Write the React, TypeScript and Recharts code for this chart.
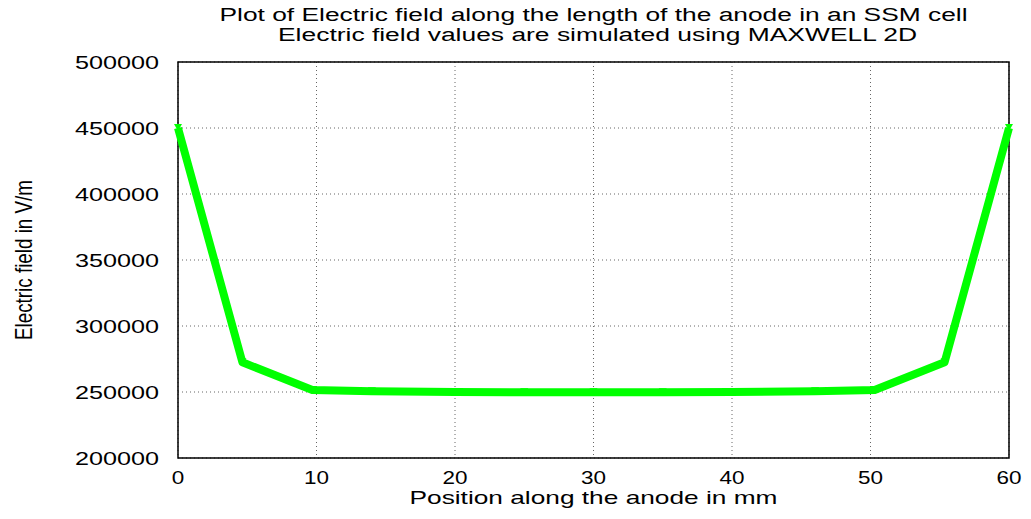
import { CartesianGrid, Label, Line, LineChart, ReferenceArea, XAxis, YAxis } from "recharts"

// position along the anode (mm) and simulated field (V/m)
const positions = [0, 4.65, 9.7, 14, 20, 25, 30, 35, 40, 46, 50.3, 55.35, 60]
const fieldValues = [450000, 272500, 251500, 250500, 250000, 249800, 249800, 249800, 250000, 250500, 251500, 272500, 450000]

const xTicks = [0, 10, 20, 30, 40, 50, 60]
const yTicks = [200000, 250000, 300000, 350000, 400000, 450000, 500000]

const titleLines = [
  "Plot of Electric field along the length of the anode in an SSM cell",
  "Electric field values are simulated using MAXWELL 2D",
]
const xLabel = "Position along the anode in mm"
const yLabel = "Electric field in V/m"

const data = positions.map((p, i) => ({ pos: p, field: fieldValues[i] }))

const FONT = "'Liberation Sans', Arial, Helvetica, sans-serif"
const TICK = 8
const X_DOMAIN = [0, 60]
const Y_DOMAIN = [200000, 500000]

function YTick({ x, y, payload }: any) {
  const s = String(payload.value)
  return (
    <text x={x} y={y + 7} textAnchor="end" fontFamily={FONT} fontSize={19} fill="#000"
      textLength={s.length * 14} lengthAdjust="spacingAndGlyphs">
      {s}
    </text>
  )
}

function XTick({ x, y, payload }: any) {
  const s = String(payload.value)
  return (
    <text x={x} y={y + 26} textAnchor="middle" fontFamily={FONT} fontSize={18} fill="#000"
      textLength={s.length * 12.5} lengthAdjust="spacingAndGlyphs">
      {s}
    </text>
  )
}

function Marker({ cx, cy }: any) {
  if (cx == null || cy == null) return null
  return <polygon points={`${cx - 4},${cy - 4} ${cx + 4},${cy - 4} ${cx},${cy + 3}`} fill="#00ff00" />
}

// mirrored axes: only inward tick marks, no labels
const tickOnly = {
  mirror: true,
  axisLine: false,
  tickLine: { stroke: "#000", strokeWidth: 1.5 },
  tickSize: TICK,
  tick: false,
}

export default function App() {
  return (
    <div style={{ position: "absolute", left: 0, top: 0, background: "#fff" }}>
      <LineChart width={1031} height={519} data={data} margin={{ top: 62, right: 22, left: 0, bottom: 0 }}>
        <CartesianGrid xAxisId="bottom" yAxisId="left" stroke="#666" strokeDasharray="1 3" />
        <XAxis
          xAxisId="bottom"
          dataKey="pos"
          type="number"
          domain={X_DOMAIN}
          ticks={xTicks}
          height={61}
          axisLine={false}
          tickLine={false}
          tickSize={0}
          tickMargin={0}
          tick={<XTick />}
        >
          <Label
            content={({ viewBox }: any) => {
              const cx = viewBox.x + viewBox.width / 2
              return (
                <g fontFamily={FONT} fill="#000" textAnchor="middle">
                  <text x={cx} y={504} fontSize={19} textLength={368} lengthAdjust="spacingAndGlyphs">{xLabel}</text>
                  <text x={cx} y={21} fontSize={18} textLength={748} lengthAdjust="spacingAndGlyphs">{titleLines[0]}</text>
                  <text x={cx + 4} y={41} fontSize={18} textLength={639} lengthAdjust="spacingAndGlyphs">{titleLines[1]}</text>
                </g>
              )
            }}
          />
        </XAxis>
        <XAxis xAxisId="bottomTicks" dataKey="pos" type="number" domain={X_DOMAIN} ticks={xTicks} {...tickOnly} />
        <XAxis xAxisId="topTicks" orientation="top" dataKey="pos" type="number" domain={X_DOMAIN} ticks={xTicks} {...tickOnly} />
        <YAxis
          yAxisId="left"
          type="number"
          domain={Y_DOMAIN}
          ticks={yTicks}
          width={178}
          axisLine={false}
          tickLine={false}
          tickSize={0}
          tickMargin={19}
          tick={<YTick />}
        >
          <Label
            content={({ viewBox }: any) => {
              const cy = viewBox.y + viewBox.height / 2
              return (
                <text x={32} y={cy} transform={`rotate(-90, 32, ${cy})`} textAnchor="middle"
                  fontFamily="'Liberation Sans Narrow', 'Liberation Sans', Arial, sans-serif" fontSize={24}
                  fill="#000" textLength={160} lengthAdjust="spacingAndGlyphs">
                  {yLabel}
                </text>
              )
            }}
          />
        </YAxis>
        <YAxis yAxisId="leftTicks" type="number" domain={Y_DOMAIN} ticks={yTicks} {...tickOnly} />
        <YAxis yAxisId="rightTicks" orientation="right" type="number" domain={Y_DOMAIN} ticks={yTicks} {...tickOnly} />
        <ReferenceArea
          xAxisId="bottom"
          yAxisId="left"
          x1={0}
          x2={60}
          y1={200000}
          y2={500000}
          fill="none"
          stroke="#000"
          strokeWidth={1.5}
          ifOverflow="visible"
        />
        <Line
          xAxisId="bottom"
          yAxisId="left"
          type="linear"
          dataKey="field"
          stroke="#00ff00"
          strokeWidth={8}
          strokeLinejoin="round"
          dot={<Marker />}
          isAnimationActive={false}
        />
      </LineChart>
    </div>
  )
}
